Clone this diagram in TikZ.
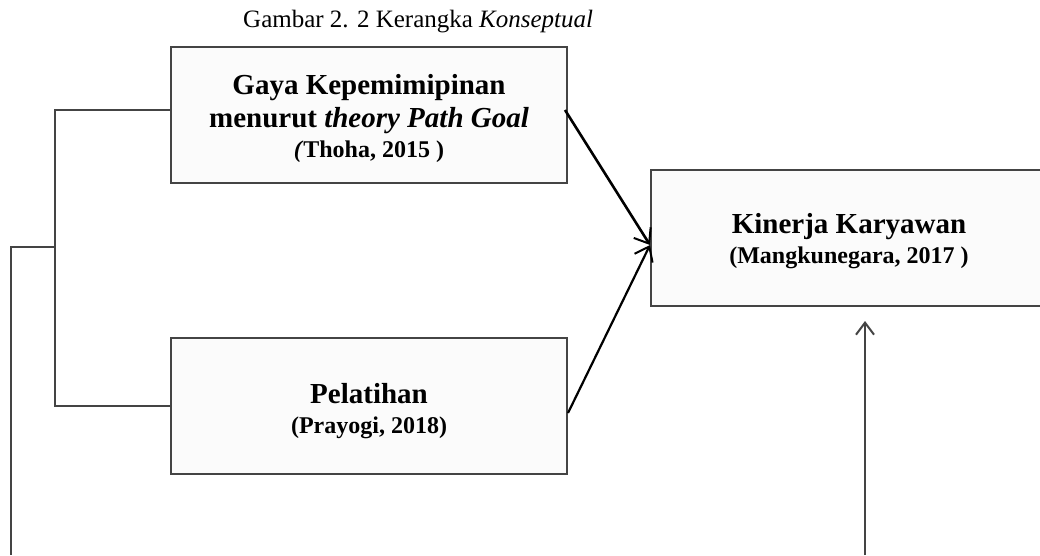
\documentclass[tikz,border=0pt]{standalone}
\usepackage{fontspec}
\setmainfont{Liberation Serif}
\usetikzlibrary{arrows.meta}
\definecolor{edge}{HTML}{444444}
\definecolor{boxfill}{HTML}{FBFBFB}
\begin{document}
\begin{tikzpicture}[x=1pt,y=-1pt,
  box/.style={draw=edge, line width=2pt, fill=boxfill, inner sep=0pt,
    minimum width=396pt, minimum height=136pt},
  bigt/.style={anchor=base, inner sep=0pt, font=\bfseries\fontsize{29}{33}\selectfont},
  smallt/.style={anchor=base, inner sep=0pt, font=\bfseries\fontsize{24}{28}\selectfont},
  line/.style={draw=edge, line width=2pt},
  arr/.style={draw=black, line width=2.6pt, -{Straight Barb[length=13pt,width=20pt,line width=2pt]}},
  uparr/.style={draw=edge, line width=2pt, -{Straight Barb[length=12pt,width=18pt,line width=2pt]}}
]
\useasboundingbox (0,0) rectangle (1040,555);
\clip (0,0) rectangle (1040,555);
\fill[white] (0,0) rectangle (1040,555);

\node[anchor=base west, inner sep=0pt, font=\fontsize{25}{28}\selectfont] (title) at (243,27) {Gambar 2. 2 Kerangka \textit{Konseptual}};

\node[box] (gaya) at (369,115) {};
\node[bigt] (gaya1) at (369,94) {Gaya Kepemimipinan};
\node[bigt] (gaya2) at (369,127) {menurut \textit{theory Path Goal}};
\node[smallt] (gaya3) at (369,157) {\textit{(}Thoha, 2015 )};

\node[box] (pel) at (369,406) {};
\node[bigt] (pel1) at (369,403) {Pelatihan};
\node[smallt] (pel2) at (369,433) {(Prayogi, 2018)};

\node[box, minimum width=394pt] (kin) at (848,238) {};
\node[bigt] (kin1) at (849,233) {Kinerja Karyawan};
\node[smallt] (kin2) at (849,263) {(Mangkunegara, 2017 )};

\coordinate (bt) at (55,247);
\coordinate (bl) at (11,247);
\coordinate (bend) at (11,555);
\coordinate (a1) at (565,110);
\coordinate (a2) at (568,413);
\coordinate (u1) at (865,555);
\coordinate (u2) at (865,321);

\draw[line] ([yshift=5pt]gaya.west) -| (bt) |- (pel.west);
\draw[line] (bt) -- (bl) -- (bend);

\draw[arr] (a1) -- ([yshift=-7pt]kin.west);
\draw[arr, line width=2.2pt] (a2) -- ([yshift=-7pt]kin.west);
\draw[uparr] (u1) -- (u2);
\end{tikzpicture}
\end{document}
